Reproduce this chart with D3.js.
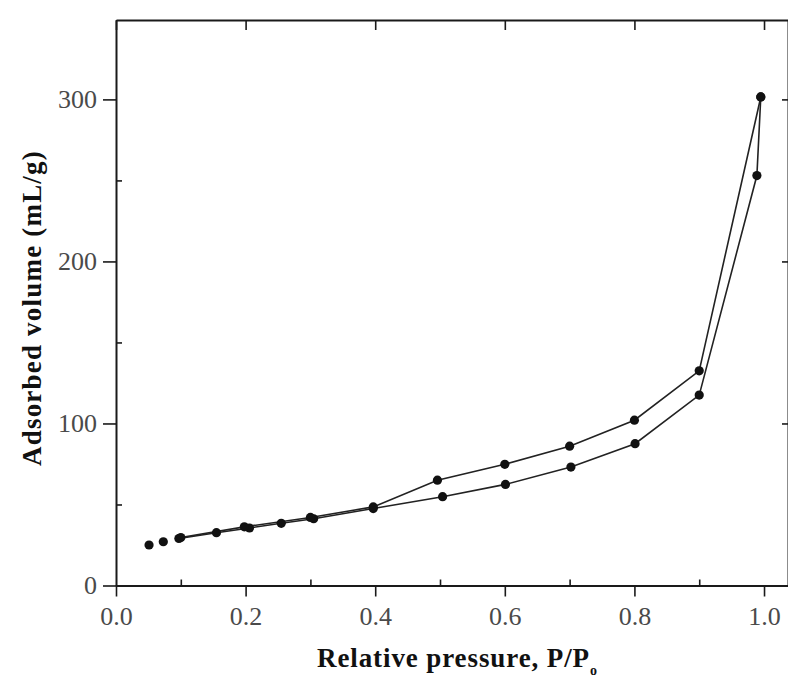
<!DOCTYPE html>
<html>
<head>
<meta charset="utf-8">
<script src="https://cdn.jsdelivr.net/npm/d3@7"></script>
<style>
  html, body { margin: 0; padding: 0; background: #fff; }
  svg { display: block; }
</style>
</head>
<body>
<script>
// ---- Data ----
const isolatedP = [0.051, 0.073];
const isolatedV = [25, 27];
const adsorptionP = [0.097, 0.155, 0.206, 0.255, 0.305, 0.397, 0.504, 0.601, 0.702, 0.801, 0.900, 0.989, 0.995];
const adsorptionV = [29, 32.6, 35.5, 38.4, 41.2, 47.5, 54.8, 62.4, 73.1, 87.5, 117.5, 253, 301.5];
const desorptionP = [0.995, 0.900, 0.800, 0.700, 0.600, 0.496, 0.397, 0.300, 0.198, 0.100];
const desorptionV = [301.5, 132.5, 102, 86, 74.8, 65, 48.5, 42, 36.2, 29.6];
const xMajorTicks = [0.0, 0.2, 0.4, 0.6, 0.8, 1.0];
const xMinorTicks = [0.1, 0.3, 0.5, 0.7, 0.9];
const yMajorTicks = [0, 100, 200, 300];
const yMinorTicks = [50, 150, 250];
const xTitle = "Relative pressure, P/P";
const xTitleSub = "o";
const yTitle = "Adsorbed volume (mL/g)";

// ---- Layout ----
const W = 788, H = 679;
const L = 116, R = 788, T = 20, B = 585.5;
const FONT = "'Liberation Serif', 'Times New Roman', serif";
const svg = d3.select("body").append("svg").attr("width", W).attr("height", H)
  .style("font-family", FONT);
svg.append("rect").attr("width", W).attr("height", H).attr("fill", "#fff");

const x = d3.scaleLinear().domain([0, 1.037]).range([L, R]);
const y = d3.scaleLinear().domain([0, 349]).range([B, T]);

function styleAxis(g, showText) {
  g.select(".domain").attr("stroke", "#1a1a1a").attr("stroke-width", 2);
  g.selectAll(".tick line").attr("stroke", "#1a1a1a").attr("stroke-width", 1.6);
  g.selectAll(".tick text").attr("fill", "#4a4a4a").attr("font-size", 26)
    .attr("font-family", FONT);
  if (!showText) g.selectAll(".tick text").remove();
}

// bottom axis
svg.append("g").attr("transform", `translate(0,${B})`)
  .call(d3.axisBottom(x).tickValues(xMajorTicks).tickSize(11).tickSizeOuter(0).tickPadding(10).tickFormat(d3.format(".1f")))
  .call(g => styleAxis(g, true));
svg.append("g").attr("transform", `translate(0,${B})`)
  .call(d3.axisBottom(x).tickValues(xMinorTicks).tickSize(-6).tickSizeOuter(0))
  .call(g => { styleAxis(g, false); g.select(".domain").remove(); });

// left axis
svg.append("g").attr("transform", `translate(${L},0)`)
  .call(d3.axisLeft(y).tickValues(yMajorTicks).tickSize(13).tickSizeOuter(0).tickPadding(6).tickFormat(d3.format("d")))
  .call(g => styleAxis(g, true));
svg.append("g").attr("transform", `translate(${L},0)`)
  .call(d3.axisLeft(y).tickValues(yMinorTicks).tickSize(-6).tickSizeOuter(0))
  .call(g => { styleAxis(g, false); g.select(".domain").remove(); });

// top axis
svg.append("g").attr("transform", `translate(0,${T})`)
  .call(d3.axisTop(x).tickValues(xMajorTicks).tickSize(-10).tickSizeOuter(0))
  .call(g => styleAxis(g, false));

// right axis
svg.append("g").attr("transform", `translate(${R},0)`)
  .call(d3.axisRight(y).tickValues(yMajorTicks.filter(d => d > 0)).tickSize(-6).tickSizeOuter(0))
  .call(g => styleAxis(g, false));

// ---- Series ----
const ads = adsorptionP.map((p, i) => ({ p, v: adsorptionV[i] }));
const des = desorptionP.map((p, i) => ({ p, v: desorptionV[i] }));
const iso = isolatedP.map((p, i) => ({ p, v: isolatedV[i] }));

const line = d3.line().x(d => x(d.p)).y(d => y(d.v));
[ads, des].forEach(series => {
  svg.append("path").datum(series).attr("d", line)
    .attr("fill", "none").attr("stroke", "#222").attr("stroke-width", 1.6);
});
[ads, des, iso].forEach(series => {
  svg.append("g").selectAll("circle").data(series).join("circle")
    .attr("cx", d => x(d.p)).attr("cy", d => y(d.v)).attr("r", 4.6)
    .attr("fill", "#111");
});

// ---- Titles ----
const xt = svg.append("text").attr("x", 317).attr("y", 667)
  .attr("font-size", 27).attr("font-weight", "bold").attr("fill", "#111")
  .attr("letter-spacing", 0.9)
  .text(xTitle);
xt.append("tspan").attr("font-size", 14).attr("dy", 8).text(xTitleSub);

svg.append("text").attr("transform", `translate(41,308) rotate(-90)`)
  .attr("text-anchor", "middle")
  .attr("font-size", 27).attr("font-weight", "bold").attr("fill", "#111")
  .attr("letter-spacing", 1.2)
  .text(yTitle);
</script>
</body>
</html>
